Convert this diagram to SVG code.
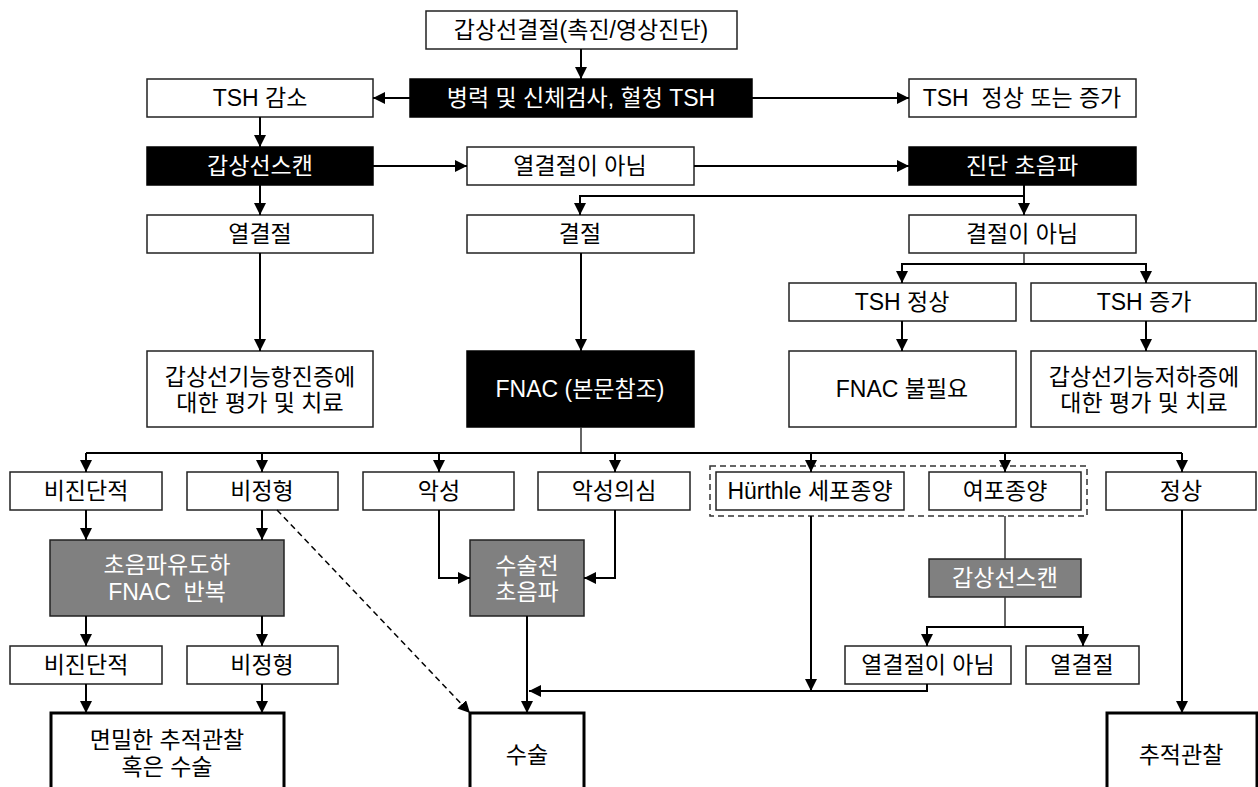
<svg xmlns="http://www.w3.org/2000/svg" width="1258" height="787" viewBox="0 0 1258 787">
<style>
.b rect{fill:#fff;stroke:#222;stroke-width:1.5}
.k rect{fill:#000;stroke:#000;stroke-width:1.5}
.g rect{fill:#808080;stroke:#222;stroke-width:1.5}
.t rect{fill:#fff;stroke:#000;stroke-width:3}
text{font-family:"Liberation Sans","Noto Sans CJK KR",sans-serif;font-size:23px;text-anchor:middle;dominant-baseline:central;fill:#000}
.k text,.g text{fill:#fff}
.c path{fill:none;stroke:#000;stroke-width:2}
.c path.a{marker-end:url(#ah)}
.c path.thin{stroke:#333;stroke-width:1.5}
.c path.d{stroke-width:1.5;stroke-dasharray:6,4}
</style>
<defs>
<marker id="ah" viewBox="0 0 10 10" refX="10" refY="5" markerWidth="12" markerHeight="12" markerUnits="userSpaceOnUse" orient="auto">
<path d="M0,0 L10,5 L0,10 z" fill="#000"/>
</marker>
</defs>
<rect width="1258" height="787" fill="#fff"/>
<g id="grp" fill="none" stroke="#333" stroke-width="1.5" stroke-dasharray="6,4"><rect x="710" y="466" width="377" height="50"/></g>
<g id="n_top" class="b"><rect x="426" y="11" width="311" height="38"/><text x="581" y="30">갑상선결절(촉진/영상진단)</text></g>
<g id="n_hx" class="k"><rect x="410" y="79" width="342" height="38"/><text x="581" y="98">병력 및 신체검사, 혈청 TSH</text></g>
<g id="n_tshlow" class="b"><rect x="147" y="79" width="226" height="38"/><text x="260" y="98">TSH 감소</text></g>
<g id="n_tshnorm" class="b"><rect x="909" y="79" width="227" height="38"/><text x="1022" y="98" xml:space="preserve">TSH  정상 또는 증가</text></g>
<g id="n_scan" class="k"><rect x="147" y="147" width="226" height="38"/><text x="260" y="166">갑상선스캔</text></g>
<g id="n_nothot" class="b"><rect x="467" y="147" width="227" height="38"/><text x="580" y="166">열결절이 아님</text></g>
<g id="n_us" class="k"><rect x="909" y="147" width="227" height="38"/><text x="1022" y="166">진단 초음파</text></g>
<g id="n_hot" class="b"><rect x="147" y="215" width="226" height="38"/><text x="260" y="234">열결절</text></g>
<g id="n_nodule" class="b"><rect x="467" y="215" width="227" height="38"/><text x="580" y="234">결절</text></g>
<g id="n_nonod" class="b"><rect x="909" y="215" width="227" height="38"/><text x="1022" y="234">결절이 아님</text></g>
<g id="n_tshn2" class="b"><rect x="789" y="283" width="227" height="38"/><text x="902" y="302">TSH 정상</text></g>
<g id="n_tshup" class="b"><rect x="1031" y="283" width="225" height="38"/><text x="1144" y="302">TSH 증가</text></g>
<g id="n_hyper" class="b"><rect x="147" y="351" width="226" height="76"/><text x="260" y="377">갑상선기능항진증에</text><text x="260" y="403">대한 평가 및 치료</text></g>
<g id="n_fnac" class="k"><rect x="467" y="351" width="227" height="76"/><text x="580" y="389">FNAC (본문참조)</text></g>
<g id="n_nofnac" class="b"><rect x="789" y="351" width="227" height="76"/><text x="902" y="389">FNAC 불필요</text></g>
<g id="n_hypo" class="b"><rect x="1031" y="351" width="225" height="76"/><text x="1144" y="377">갑상선기능저하증에</text><text x="1144" y="403">대한 평가 및 치료</text></g>
<g id="n_nd1" class="b"><rect x="10" y="472" width="152" height="38"/><text x="86" y="491">비진단적</text></g>
<g id="n_aty1" class="b"><rect x="187" y="472" width="151" height="38"/><text x="262" y="491">비정형</text></g>
<g id="n_mal" class="b"><rect x="363" y="472" width="151" height="38"/><text x="439" y="491">악성</text></g>
<g id="n_susp" class="b"><rect x="538" y="472" width="152" height="38"/><text x="614" y="491">악성의심</text></g>
<g id="n_hurthle" class="b"><rect x="716" y="472" width="188" height="38"/><text x="810" y="491">Hürthle 세포종양</text></g>
<g id="n_foll" class="b"><rect x="929" y="472" width="152" height="38"/><text x="1005" y="491">여포종양</text></g>
<g id="n_normal" class="b"><rect x="1106" y="472" width="150" height="38"/><text x="1181" y="491">정상</text></g>
<g id="n_usfnac" class="g"><rect x="50" y="540" width="234" height="76"/><text x="167" y="565">초음파유도하</text><text x="167" y="592" xml:space="preserve">FNAC  반복</text></g>
<g id="n_preus" class="g"><rect x="470" y="540" width="114" height="76"/><text x="527" y="566">수술전</text><text x="527" y="592">초음파</text></g>
<g id="n_scan2" class="g"><rect x="929" y="559" width="152" height="38"/><text x="1005" y="578">갑상선스캔</text></g>
<g id="n_nd2" class="b"><rect x="10" y="646" width="152" height="38"/><text x="86" y="665">비진단적</text></g>
<g id="n_aty2" class="b"><rect x="187" y="646" width="151" height="38"/><text x="262" y="665">비정형</text></g>
<g id="n_nothot2" class="b"><rect x="845" y="646" width="166" height="38"/><text x="928" y="665">열결절이 아님</text></g>
<g id="n_hot2" class="b"><rect x="1026" y="646" width="113" height="38"/><text x="1082" y="665">열결절</text></g>
<g id="n_follow" class="t"><rect x="51" y="713" width="233" height="84"/><text x="167" y="740">면밀한 추적관찰</text><text x="167" y="767">혹은 수술</text></g>
<g id="n_surg" class="t"><rect x="470" y="713" width="114" height="84"/><text x="527" y="755">수술</text></g>
<g id="n_obs" class="t"><rect x="1107" y="713" width="150" height="84"/><text x="1181" y="755">추적관찰</text></g>
<g id="connectors" class="c">
<path class="a" d="M581,49 V79"/>
<path class="a" d="M410,98 H373"/>
<path class="a" d="M752,98 H909"/>
<path class="a" d="M260,117 V147"/>
<path class="a" d="M373,166 H467"/>
<path class="a" d="M694,166 H909"/>
<path class="a" d="M260,185 V215"/>
<path class="a" d="M1024,185 V215"/>
<path class="a" d="M1024,196 H580 V215"/>
<path class="a" d="M260,253 V351"/>
<path class="a" d="M581,253 V351"/>
<path class="thin" d="M1024,253 V264"/>
<path class="a" d="M1024,264 H902 V283"/>
<path class="a" d="M1024,264 H1146 V283"/>
<path class="a" d="M902,321 V351"/>
<path class="a" d="M1146,321 V351"/>
<path class="thin" d="M581,427 V453"/>
<path d="M86,453 H1182"/>
<path class="a" d="M86,453 V472"/>
<path class="a" d="M262,453 V472"/>
<path class="a" d="M439,453 V472"/>
<path class="a" d="M615,453 V472"/>
<path class="a" d="M811,453 V472"/>
<path class="a" d="M1005,453 V472"/>
<path class="a" d="M1182,453 V472"/>
<path class="a" d="M86,510 V540"/>
<path class="a" d="M262,510 V540"/>
<path class="a d" d="M277,510 L470,713"/>
<path class="a" d="M439,510 V578 H470"/>
<path class="a" d="M615,510 V578 H584"/>
<path class="a" d="M86,616 V646"/>
<path class="a" d="M262,616 V646"/>
<path class="a" d="M86,684 V713"/>
<path class="a" d="M262,684 V713"/>
<path class="a" d="M527,616 V713"/>
<path class="a" d="M811,516 V691"/>
<path class="thin" d="M1005,516 V559"/>
<path class="thin" d="M1005,597 V627"/>
<path class="a" d="M1005,627 H927 V646"/>
<path class="a" d="M1005,627 H1083 V646"/>
<path class="a" d="M927,684 V691 H529"/>
<path class="a" d="M1182,510 V713"/>
</g>
</svg>
